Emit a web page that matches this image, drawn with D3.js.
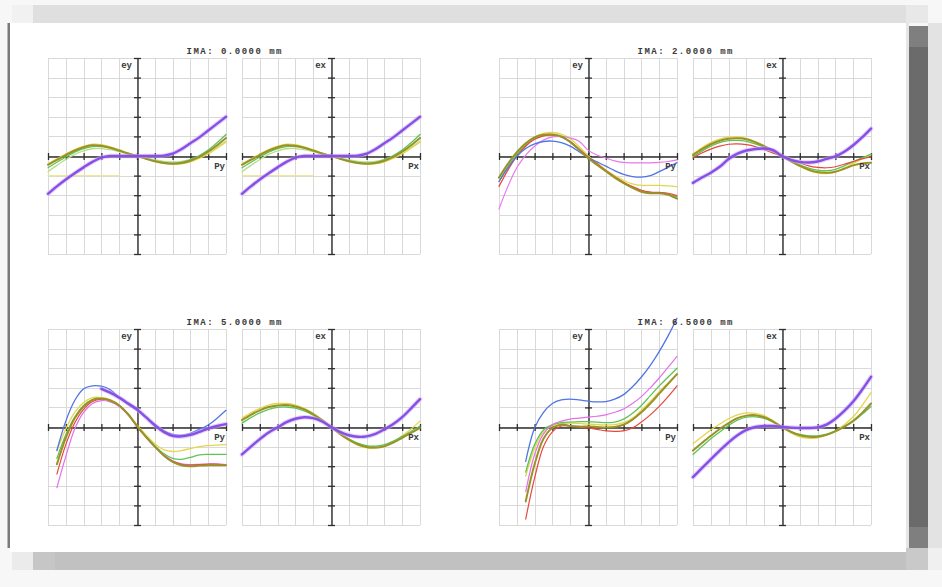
<!DOCTYPE html>
<html>
<head>
<meta charset="utf-8">
<script src="https://cdn.jsdelivr.net/npm/d3@7"></script>
<style>
  html, body { margin: 0; padding: 0; background: #f7f7f7; }
  svg { display: block; }
</style>
</head>
<body>
<svg id="chart" width="942" height="587"></svg>
<script>
// Transverse ray fan plot: ey vs Py (tangential) and ex vs Px (sagittal) for four image heights.
// Pupil coordinate runs -1..1, aberration is in grid divisions (-5..5).

const PUPIL = [-1, -0.9, -0.8, -0.7, -0.6, -0.5, -0.4, -0.3, -0.2, -0.1, 0,
               0.1, 0.2, 0.3, 0.4, 0.5, 0.6, 0.7, 0.8, 0.9, 1];

const FIELD_LABELS = ["IMA: 0.0000 mm", "IMA: 2.0000 mm", "IMA: 5.0000 mm", "IMA: 6.5000 mm"];
const AXIS_LABELS = { ey: "ey", ex: "ex", py: "Py", px: "Px" };

// ---- IMA 0.0000 (on axis: tangential and sagittal fans coincide)
const f0_purple     = [-1.93, -1.55, -1.2, -0.88, -0.58, -0.3, -0.08, 0, 0, 0, 0, 0, 0, 0.02, 0.12, 0.35, 0.65, 0.95, 1.3, 1.65, 2.0];
const f0_olive      = [-0.45, -0.2, 0.05, 0.28, 0.45, 0.55, 0.52, 0.42, 0.28, 0.13, 0, -0.14, -0.27, -0.36, -0.39, -0.36, -0.24, -0.05, 0.22, 0.55, 0.92];
const f0_yellow     = [-0.4, -0.15, 0.1, 0.33, 0.5, 0.6, 0.58, 0.47, 0.32, 0.15, 0, -0.15, -0.28, -0.38, -0.42, -0.4, -0.3, -0.12, 0.1, 0.4, 0.7];
const f0_green      = [-0.6, -0.32, -0.05, 0.2, 0.38, 0.48, 0.48, 0.4, 0.27, 0.13, 0, -0.13, -0.25, -0.33, -0.36, -0.32, -0.2, 0.02, 0.3, 0.68, 1.1];
const f0_lightgreen = [-0.8, -0.48, -0.18, 0.08, 0.26, 0.37, 0.38, 0.32, 0.22, 0.1, 0, -0.1, -0.2, -0.27, -0.3, -0.27, -0.17, -0.02, 0.18, 0.45, 0.75];
const f0_pale       = [-1, -1, -1, -1, -1, -1, -1, -1, -1, null, null, null, null, null, null, null, null, null, null, null, null];

// ---- IMA 2.0000, tangential
const f1y_pink   = [-2.7, -1.55, -0.6, 0.05, 0.5, 0.82, 0.98, 1.0, 0.92, 0.75, 0.3, 0.05, -0.1, -0.25, -0.33, -0.35, -0.35, -0.35, -0.33, -0.28, -0.2];
const f1y_blue   = [-1.3, -0.6, -0.02, 0.38, 0.62, 0.74, 0.76, 0.68, 0.5, 0.22, -0.08, -0.3, -0.52, -0.75, -0.94, -1.05, -1.08, -1.0, -0.8, -0.58, -0.34];
const f1y_yellow = [-1.15, -0.42, 0.15, 0.62, 0.96, 1.15, 1.2, 1.12, 0.88, 0.48, 0.02, -0.35, -0.7, -1.0, -1.25, -1.42, -1.5, -1.5, -1.5, -1.52, -1.56];
const f1y_green  = [-1.3, -0.55, 0.08, 0.55, 0.88, 1.04, 1.06, 0.96, 0.7, 0.32, -0.07, -0.42, -0.75, -1.07, -1.35, -1.58, -1.78, -1.86, -1.88, -1.94, -2.08];
const f1y_red    = [-1.55, -0.72, -0.02, 0.5, 0.85, 1.03, 1.07, 0.98, 0.74, 0.36, -0.04, -0.4, -0.74, -1.06, -1.34, -1.56, -1.75, -1.84, -1.86, -1.9, -2.02];
const f1y_olive  = [-1.1, -0.4, 0.2, 0.65, 0.95, 1.08, 1.1, 1.0, 0.72, 0.32, -0.1, -0.45, -0.78, -1.1, -1.38, -1.62, -1.82, -1.9, -1.9, -1.98, -2.18];

// ---- IMA 2.0000, sagittal
const f1x_purple = [-1.37, -1.1, -0.85, -0.55, -0.15, 0.12, 0.28, 0.36, 0.38, 0.3, 0, -0.2, -0.3, -0.33, -0.28, -0.15, -0.02, 0.22, 0.55, 0.95, 1.4];
const f1x_green  = [-0.05, 0.25, 0.5, 0.68, 0.78, 0.8, 0.75, 0.62, 0.45, 0.22, 0, -0.24, -0.45, -0.62, -0.72, -0.75, -0.68, -0.5, -0.3, -0.1, 0.1];
const f1x_yellow = [0.1, 0.42, 0.68, 0.86, 0.96, 0.97, 0.9, 0.74, 0.52, 0.26, 0, -0.28, -0.53, -0.73, -0.87, -0.9, -0.82, -0.62, -0.38, -0.15, 0.05];
const f1x_red    = [-0.1, 0.15, 0.35, 0.5, 0.6, 0.62, 0.58, 0.48, 0.32, 0.15, 0, -0.18, -0.35, -0.5, -0.58, -0.6, -0.55, -0.42, -0.28, -0.15, -0.05];
const f1x_olive  = [0.05, 0.35, 0.6, 0.78, 0.88, 0.9, 0.85, 0.7, 0.5, 0.25, 0, -0.27, -0.5, -0.7, -0.82, -0.85, -0.8, -0.65, -0.48, -0.38, -0.35];

// ---- IMA 5.0000, tangential
const f2y_blue    = [null, -1.2, 0.3, 1.35, 1.95, 2.1, 2.08, 1.9, 1.5, 1.15, 0.85, 0.5, 0.15, -0.18, -0.38, -0.42, -0.32, -0.12, 0.1, 0.45, 0.85];
const f2y_purple  = [null, null, null, null, null, null, 1.95, 1.75, 1.5, 1.2, 0.9, 0.5, 0.08, -0.25, -0.45, -0.48, -0.4, -0.25, -0.08, 0.05, 0.15];
const f2y_yellow  = [null, -1.2, -0.1, 0.75, 1.25, 1.5, 1.5, 1.4, 1.12, 0.68, 0.1, -0.4, -0.85, -1.15, -1.25, -1.2, -1.1, -1.0, -0.95, -0.92, -0.9];
const f2y_green   = [null, -1.6, -0.4, 0.5, 1.1, 1.4, 1.45, 1.35, 1.1, 0.65, 0.05, -0.48, -0.95, -1.35, -1.6, -1.65, -1.55, -1.42, -1.4, -1.4, -1.4];
const f2y_red     = [null, -2.4, -0.9, 0.2, 0.9, 1.3, 1.42, 1.35, 1.1, 0.65, 0.05, -0.5, -1.0, -1.45, -1.75, -1.9, -1.95, -1.92, -1.9, -1.9, -1.95];
const f2y_magenta = [null, -3.1, -1.5, -0.1, 0.75, 1.2, 1.35, 1.28, 1.05, 0.62, 0.05, -0.5, -1.0, -1.42, -1.72, -1.88, -1.92, -1.9, -1.88, -1.88, -1.92];
const f2y_olive   = [null, -1.9, -0.55, 0.45, 1.05, 1.38, 1.45, 1.35, 1.1, 0.65, 0.05, -0.5, -1.0, -1.45, -1.78, -1.95, -2.0, -1.97, -1.95, -1.95, -1.95];

// ---- IMA 5.0000, sagittal
const f2x_purple = [-1.4, -1.0, -0.62, -0.28, -0.02, 0.25, 0.42, 0.5, 0.45, 0.28, 0, -0.25, -0.42, -0.5, -0.48, -0.35, -0.12, 0.15, 0.5, 0.95, 1.42];
const f2x_green  = [0.2, 0.48, 0.72, 0.9, 1.0, 1.02, 0.96, 0.82, 0.6, 0.32, 0, -0.32, -0.6, -0.82, -0.95, -0.98, -0.9, -0.72, -0.48, -0.22, 0.05];
const f2x_yellow = [0.45, 0.72, 0.95, 1.12, 1.2, 1.2, 1.12, 0.95, 0.7, 0.38, 0, -0.37, -0.68, -0.92, -1.06, -1.08, -0.98, -0.76, -0.45, -0.1, 0.3];
const f2x_olive  = [0.35, 0.62, 0.85, 1.02, 1.1, 1.12, 1.05, 0.9, 0.65, 0.35, 0, -0.35, -0.65, -0.88, -1.02, -1.05, -0.98, -0.8, -0.55, -0.3, -0.05];

// ---- IMA 6.5000, tangential
const f3y_blue    = [null, null, null, -1.75, -0.05, 0.75, 1.2, 1.38, 1.42, 1.38, 1.32, 1.28, 1.3, 1.42, 1.65, 2.05, 2.55, 3.15, 3.85, 4.65, 5.55];
const f3y_magenta = [null, null, null, -3.3, -1.4, -0.35, 0.12, 0.3, 0.4, 0.45, 0.5, 0.55, 0.62, 0.75, 0.92, 1.2, 1.55, 2.0, 2.5, 3.05, 3.6];
const f3y_green   = [null, null, null, -2.3, -0.9, -0.15, 0.12, 0.22, 0.25, 0.27, 0.27, 0.25, 0.22, 0.25, 0.4, 0.7, 1.1, 1.6, 2.1, 2.55, 3.0];
const f3y_yellow  = [null, null, null, -2.5, -1.1, -0.25, 0.05, 0.15, 0.2, 0.18, 0.15, 0.12, 0.1, 0.12, 0.22, 0.45, 0.85, 1.3, 1.8, 2.25, 2.7];
const f3y_red     = [null, null, null, -4.7, -2.6, -1.0, -0.25, 0.05, 0.05, 0.0, -0.05, -0.12, -0.2, -0.22, -0.2, -0.05, 0.25, 0.62, 1.05, 1.55, 2.1];
const f3y_olive   = [null, null, null, -3.8, -1.9, -0.6, -0.05, 0.12, 0.05, 0.02, 0.02, 0, -0.02, 0.0, 0.12, 0.38, 0.75, 1.2, 1.7, 2.2, 2.7];

// ---- IMA 6.5000, sagittal
const f3x_purple = [-2.56, -2.1, -1.65, -1.2, -0.78, -0.42, -0.15, 0.0, 0.05, 0.05, 0, -0.03, -0.05, -0.05, -0.02, 0.12, 0.42, 0.82, 1.3, 1.9, 2.56];
const f3x_green  = [-1.4, -1.0, -0.6, -0.25, 0.08, 0.35, 0.5, 0.52, 0.44, 0.25, 0, -0.22, -0.38, -0.45, -0.45, -0.36, -0.2, 0.0, 0.28, 0.65, 1.05];
const f3x_yellow = [-0.85, -0.5, -0.15, 0.15, 0.42, 0.62, 0.72, 0.7, 0.58, 0.32, 0, -0.3, -0.5, -0.58, -0.55, -0.42, -0.2, 0.12, 0.52, 1.1, 1.75];
const f3x_olive  = [-1.2, -0.82, -0.45, -0.1, 0.2, 0.45, 0.58, 0.6, 0.5, 0.28, 0, -0.25, -0.42, -0.5, -0.5, -0.4, -0.22, 0.02, 0.32, 0.72, 1.2];

// Line styles per trace colour
const STYLE = {
  pale:       { color: "#efe69a", width: 1.2 },
  lightgreen: { color: "#b9dd88", width: 1.3 },
  yellow:     { color: "#e4d64c", width: 1.3 },
  green:      { color: "#5fc458", width: 1.3 },
  red:        { color: "#e8483c", width: 1.2 },
  magenta:    { color: "#e470ea", width: 1.2 },
  blue:       { color: "#4f74e6", width: 1.3 },
  olive:      { color: "#9a9228", width: 2.0 },
  purple:     { color: "#8a4ee6", width: 2.4 }
};

// Panel contents: [trace colour key, values]
const FIELDS = [
  { label: FIELD_LABELS[0],
    tan: [["pale", f0_pale], ["lightgreen", f0_lightgreen], ["yellow", f0_yellow], ["green", f0_green], ["olive", f0_olive], ["purple", f0_purple]],
    sag: [["pale", f0_pale], ["lightgreen", f0_lightgreen], ["yellow", f0_yellow], ["green", f0_green], ["olive", f0_olive], ["purple", f0_purple]] },
  { label: FIELD_LABELS[1],
    tan: [["yellow", f1y_yellow], ["green", f1y_green], ["red", f1y_red], ["pink", f1y_pink], ["blue", f1y_blue], ["olive", f1y_olive]],
    sag: [["yellow", f1x_yellow], ["green", f1x_green], ["red", f1x_red], ["olive", f1x_olive], ["purple", f1x_purple]] },
  { label: FIELD_LABELS[2],
    tan: [["yellow", f2y_yellow], ["green", f2y_green], ["magenta", f2y_magenta], ["red", f2y_red], ["olive", f2y_olive], ["blue", f2y_blue], ["purple", f2y_purple]],
    sag: [["yellow", f2x_yellow], ["green", f2x_green], ["olive", f2x_olive], ["purple", f2x_purple]] },
  { label: FIELD_LABELS[3],
    tan: [["yellow", f3y_yellow], ["green", f3y_green], ["red", f3y_red], ["olive", f3y_olive], ["magenta", f3y_magenta], ["blue", f3y_blue]],
    sag: [["yellow", f3x_yellow], ["green", f3x_green], ["olive", f3x_olive], ["purple", f3x_purple]] }
];
STYLE.pink = { color: "#e878ee", width: 1.2 };

const svg = d3.select("#chart");

// ---------- page frame ----------
const frame = svg.append("g");
const box = (x, y, w, h, fill) => frame.append("rect").attr("x", x).attr("y", y).attr("width", w).attr("height", h).attr("fill", fill);
box(0, 0, 942, 587, "#f7f7f7");
box(12, 5, 21, 18, "#f1f1f1");
box(33, 5, 873, 18, "#dfdfdf");
box(906, 5, 22, 18, "#e8e8e8");
box(10, 23, 898, 529, "#ffffff");
box(7.5, 23, 2.5, 525, "#7a7a7a");
box(928, 23, 14, 525, "#e3e3e3");
box(906, 23, 3, 529, "#e6e6e6");
box(909, 26, 19, 21, "#7f7f7f");
box(909, 47, 19, 480, "#6b6b6b");
box(909, 527, 19, 21, "#7f7f7f");
box(12, 552, 21, 18, "#ebebeb");
box(33, 552, 22, 18, "#c6c6c6");
box(55, 552, 851, 18, "#c1c1c1");
box(906, 548, 22, 22, "#c9c9c9");
box(928, 548, 14, 22, "#f0f0f0");

// ---------- panels ----------
const PW = 178, PH = 196, PANEL_GAP = 194;
const GROUP_POS = [[48, 58], [499, 58], [48, 329], [499, 329]];

function drawPanel(g, left, top, traces, yLab, xLab) {
  const x = d3.scaleLinear().domain([-1, 1]).range([left, left + PW]);
  const y = d3.scaleLinear().domain([-5, 5]).range([top + PH, top]);

  // grid
  const grid = g.append("g").attr("stroke", "#d9d9d9").attr("stroke-width", 1).attr("shape-rendering", "crispEdges");
  grid.selectAll("line.v").data(x.ticks(10)).join("line")
    .attr("x1", d => Math.round(x(d)) + 0.5).attr("x2", d => Math.round(x(d)) + 0.5)
    .attr("y1", y(5)).attr("y2", y(-5));
  grid.selectAll("line.h").data(y.ticks(10)).join("line")
    .attr("y1", d => Math.round(y(d)) + 0.5).attr("y2", d => Math.round(y(d)) + 0.5)
    .attr("x1", x(-1)).attr("x2", x(1));

  // axes through the origin, with ticks on both sides
  const xAxis = g.append("g").attr("transform", `translate(0,${Math.round(y(0)) + 0.5})`)
    .call(d3.axisBottom(x).tickValues(x.ticks(10)).tickSize(4).tickSizeOuter(0).tickFormat(""));
  xAxis.selectAll(".tick line").attr("y1", -3.5).attr("y2", 3.5);
  const yAxis = g.append("g").attr("transform", `translate(${Math.round(x(0)) + 0.5},0)`)
    .call(d3.axisLeft(y).tickValues(y.ticks(10)).tickSize(4).tickSizeOuter(0).tickFormat(""));
  yAxis.selectAll(".tick line").attr("x1", -3.5).attr("x2", 3.5);
  [xAxis, yAxis].forEach(a => {
    a.select(".domain").attr("stroke", "#2e2e2e").attr("stroke-width", 1.4);
    a.selectAll(".tick line").attr("stroke", "#2e2e2e").attr("stroke-width", 1.3);
  });

  // ray fan traces
  const line = d3.line()
    .defined(d => d[1] !== null)
    .x(d => x(d[0])).y(d => y(d[1]))
    .curve(d3.curveCatmullRom.alpha(0.5));
  traces.forEach(([key, vals]) => {
    const pts = PUPIL.map((p, i) => [p, vals[i]]);
    const st = STYLE[key];
    if (key === "purple") {
      g.append("path").attr("d", line(pts)).attr("fill", "none")
        .attr("stroke", "#c6b2f4").attr("stroke-width", 4.5).attr("stroke-opacity", 0.55)
        .attr("stroke-linecap", "round");
    }
    g.append("path").attr("d", line(pts)).attr("fill", "none")
      .attr("stroke", st.color).attr("stroke-width", st.width)
      .attr("stroke-linejoin", "round").attr("stroke-linecap", "round");
  });

  // axis labels
  g.append("text").attr("x", x(0) - 5).attr("y", top + 10)
    .attr("text-anchor", "end").text(yLab);
  g.append("text").attr("x", x(1) - 1).attr("y", y(0) + 13)
    .attr("text-anchor", "end").text(xLab);
}

FIELDS.forEach((f, i) => {
  const [gx, gy] = GROUP_POS[i];
  const g = svg.append("g")
    .attr("font-family", "'Liberation Mono', 'DejaVu Sans Mono', monospace")
    .attr("font-size", 9).attr("font-weight", "bold").attr("fill", "#3a3a3a");
  drawPanel(g, gx, gy, f.tan, AXIS_LABELS.ey, AXIS_LABELS.py);
  drawPanel(g, gx + PANEL_GAP, gy, f.sag, AXIS_LABELS.ex, AXIS_LABELS.px);
  g.append("text")
    .attr("x", gx + (PANEL_GAP + PW) / 2).attr("y", gy - 4)
    .attr("text-anchor", "middle")
    .attr("textLength", 95).attr("lengthAdjust", "spacing")
    .text(f.label);
});
</script>
</body>
</html>
